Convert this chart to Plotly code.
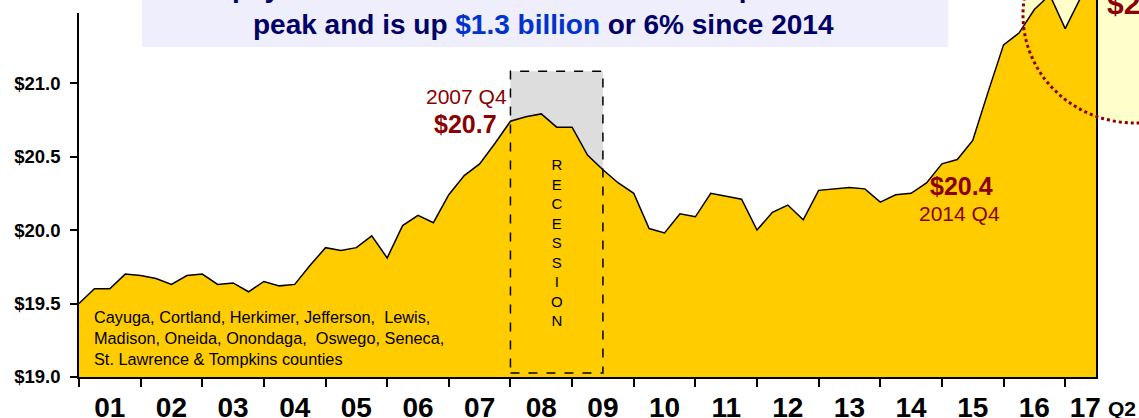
import plotly.graph_objects as go

# ---------------- data ----------------
quarter_labels = [
    "2000 Q4",
    "2001 Q1", "2001 Q2", "2001 Q3", "2001 Q4",
    "2002 Q1", "2002 Q2", "2002 Q3", "2002 Q4",
    "2003 Q1", "2003 Q2", "2003 Q3", "2003 Q4",
    "2004 Q1", "2004 Q2", "2004 Q3", "2004 Q4",
    "2005 Q1", "2005 Q2", "2005 Q3", "2005 Q4",
    "2006 Q1", "2006 Q2", "2006 Q3", "2006 Q4",
    "2007 Q1", "2007 Q2", "2007 Q3", "2007 Q4",
    "2008 Q1", "2008 Q2", "2008 Q3", "2008 Q4",
    "2009 Q1", "2009 Q2", "2009 Q3", "2009 Q4",
    "2010 Q1", "2010 Q2", "2010 Q3", "2010 Q4",
    "2011 Q1", "2011 Q2", "2011 Q3", "2011 Q4",
    "2012 Q1", "2012 Q2", "2012 Q3", "2012 Q4",
    "2013 Q1", "2013 Q2", "2013 Q3", "2013 Q4",
    "2014 Q1", "2014 Q2", "2014 Q3", "2014 Q4",
    "2015 Q1", "2015 Q2", "2015 Q3", "2015 Q4",
    "2016 Q1", "2016 Q2", "2016 Q3", "2016 Q4",
    "2017 Q1", "2017 Q2",
]
payroll = [
    19.50,
    19.60, 19.60, 19.70, 19.69,
    19.67, 19.63, 19.69, 19.70,
    19.63, 19.64, 19.58, 19.65,
    19.62, 19.63, 19.76, 19.88,
    19.86, 19.88, 19.96, 19.81,
    20.03, 20.10, 20.05, 20.24,
    20.37, 20.45, 20.59, 20.74,
    20.77, 20.79, 20.70, 20.70,
    20.51, 20.41, 20.32, 20.25,
    20.01, 19.98, 20.11, 20.09,
    20.25, 20.23, 20.21, 20.00,
    20.12, 20.17, 20.07, 20.27,
    20.28, 20.29, 20.28, 20.19,
    20.24, 20.25, 20.32, 20.45,
    20.48, 20.61, 20.94, 21.26,
    21.34, 21.50, 21.60, 21.37,
    21.58, 21.70,
]
year_labels = ["01", "02", "03", "04", "05", "06", "07", "08", "09",
               "10", "11", "12", "13", "14", "15", "16", "17"]
y_ticks = [19.0, 19.5, 20.0, 20.5, 21.0, 21.5]
y_tick_text = ["$19.0", "$19.5", "$20.0", "$20.5", "$21.0", "$21.5"]
recession_start = "2007 Q4"
recession_end = "2009 Q2"
peak_label = "2007 Q4"
trough_label = "2014 Q4"

x_idx = list(range(len(payroll)))
rec0 = quarter_labels.index(recession_start)
rec1 = quarter_labels.index(recession_end)
pk = quarter_labels.index(peak_label)
tr = quarter_labels.index(trough_label)

FONT = "Liberation Sans, Arial, sans-serif"
DARKRED = "#8B0000"

fig = go.Figure()
fig.add_trace(go.Scatter(
    x=x_idx, y=payroll, mode="lines", fill="tozeroy",
    fillcolor="#FFCC00", line=dict(color="black", width=1.5),
    hoverinfo="x+y", showlegend=False,
))

year_start_idx = [i for i, q in enumerate(quarter_labels) if q.endswith("Q4")]
label_pos = [i + 2 for i in year_start_idx[:-1]] + [year_start_idx[-1] + 1.3]

fig.update_layout(
    width=1139, height=418,
    margin=dict(l=79, r=43, t=0, b=41, autoexpand=False),
    paper_bgcolor="white", plot_bgcolor="white",
    font=dict(family=FONT, color="black"),
    xaxis=dict(
        range=[0, len(payroll) - 1], automargin=False,
        tickmode="array", tickvals=label_pos, ticktext=year_labels,
        ticks="outside", ticklen=5, tickcolor="rgba(0,0,0,0)",
        tickfont=dict(size=28, family=FONT, color="black", weight="bold"),
        minor=dict(tickmode="array", tickvals=year_start_idx, ticks="outside",
                   ticklen=8, tickwidth=1.5, tickcolor="black"),
        showline=True, linecolor="black", linewidth=1.5,
        showgrid=False, zeroline=False, fixedrange=True,
    ),
    yaxis=dict(
        range=[19.0, 21.565], automargin=False,
        tickmode="array", tickvals=y_ticks, ticktext=y_tick_text,
        ticks="outside", ticklen=7, tickwidth=1.5, tickcolor="black",
        tickfont=dict(size=18.5, family=FONT, color="black", weight="bold"),
        ticklabelstandoff=6,
        showline=True, linecolor="black", linewidth=1.5, mirror=True,
        showgrid=False, zeroline=False, fixedrange=True,
    ),
)

shapes = [
    # recession shading (under the area)
    dict(type="rect", xref="x", yref="y", x0=rec0, x1=rec1, y0=19.027, y1=21.08,
         fillcolor="#DDDDDD", line=dict(width=0), layer="below"),
    # recession dashed frame (over the area)
    dict(type="rect", xref="x", yref="y", x0=rec0, x1=rec1, y0=19.027, y1=21.08,
         fillcolor="rgba(0,0,0,0)", line=dict(color="black", width=1.5, dash="dash"),
         layer="above"),
    # highlight ellipse fill
    dict(type="circle", xref="paper", yref="paper", x0=0.9282, x1=1.1485,
         y0=0.6737, y1=1.2467, fillcolor="#FFFFCC", line=dict(width=0), layer="below"),
    # highlight ellipse dotted outline
    dict(type="circle", xref="paper", yref="paper", x0=0.9282, x1=1.1485,
         y0=0.6737, y1=1.2467, fillcolor="rgba(0,0,0,0)",
         line=dict(color=DARKRED, width=3, dash="dot"), layer="above"),
    # title box
    dict(type="rect", xref="paper", yref="paper", x0=0.0619, x1=0.8545,
         y0=0.8753, y1=1.2, fillcolor="#EEEEFC", line=dict(width=0), layer="above"),
    # white mask at top-left corner
    dict(type="rect", xref="paper", yref="paper", x0=-0.1, x1=0.061,
         y0=0.9655, y1=1.2, fillcolor="white", line=dict(width=0), layer="above"),
]
fig.update_layout(shapes=shapes)

annotations = [
    dict(text="Real payroll in Central NY is now above its pre-recession",
         xref="paper", yref="paper", x=0.4572, y=1.032, xanchor="center", yanchor="middle",
         showarrow=False, font=dict(size=28, color="#000066", family=FONT, weight="bold")),
    dict(text="peak and is up <span style='color:#0033CC'>$1.3 billion</span> or 6% since 2014",
         xref="paper", yref="paper", x=0.4572, y=0.935, xanchor="center", yanchor="middle",
         showarrow=False, font=dict(size=28, color="#000066", family=FONT, weight="bold")),
    dict(text=peak_label, xref="x", yref="y", x=pk - 0.1, y=20.91,
         xanchor="right", yanchor="middle", showarrow=False,
         font=dict(size=21, color=DARKRED, family=FONT)),
    dict(text="$%.1f" % payroll[pk], xref="x", yref="y", x=pk - 0.74, y=20.72,
         xanchor="right", yanchor="middle", showarrow=False,
         font=dict(size=25, color=DARKRED, family=FONT, weight="bold")),
    dict(text="$%.1f" % payroll[tr], xref="x", yref="y", x=tr + 1.24, y=20.30,
         xanchor="center", yanchor="middle", showarrow=False,
         font=dict(size=25, color=DARKRED, family=FONT, weight="bold")),
    dict(text=trough_label, xref="x", yref="y", x=tr + 1.17, y=20.11,
         xanchor="center", yanchor="middle", showarrow=False,
         font=dict(size=21, color=DARKRED, family=FONT)),
    dict(text="<br>".join("RECESSION"), xref="x", yref="y", x=(rec0 + rec1) / 2, y=19.915,
         xanchor="center", yanchor="middle", showarrow=False, align="center",
         font=dict(size=15, color="black", family=FONT)),
    dict(text="Cayuga, Cortland, Herkimer, Jefferson,&nbsp; Lewis,<br>"
              "Madison, Oneida, Onondaga,&nbsp; Oswego, Seneca,<br>"
              "St. Lawrence &amp; Tompkins counties",
         xref="x", yref="y", x=0.84, y=19.265, xanchor="left", yanchor="middle",
         align="left", showarrow=False,
         font=dict(size=16.3, color="black", family=FONT)),
    dict(text="$%.1f" % payroll[-1], xref="paper", yref="paper", x=1.0089, y=0.99,
         xanchor="left", yanchor="middle", showarrow=False,
         font=dict(size=30, color=DARKRED, family=FONT, weight="bold")),
    dict(text="Q2", xref="paper", yref="paper", x=1.0256, y=-0.083,
         xanchor="center", yanchor="middle", showarrow=False,
         font=dict(size=21, color="black", family=FONT, weight="bold")),
]
fig.update_layout(annotations=annotations)

fig.write_html("out.html", config={"displayModeBar": False},
               post_script="document.body.style.margin='0px';")
